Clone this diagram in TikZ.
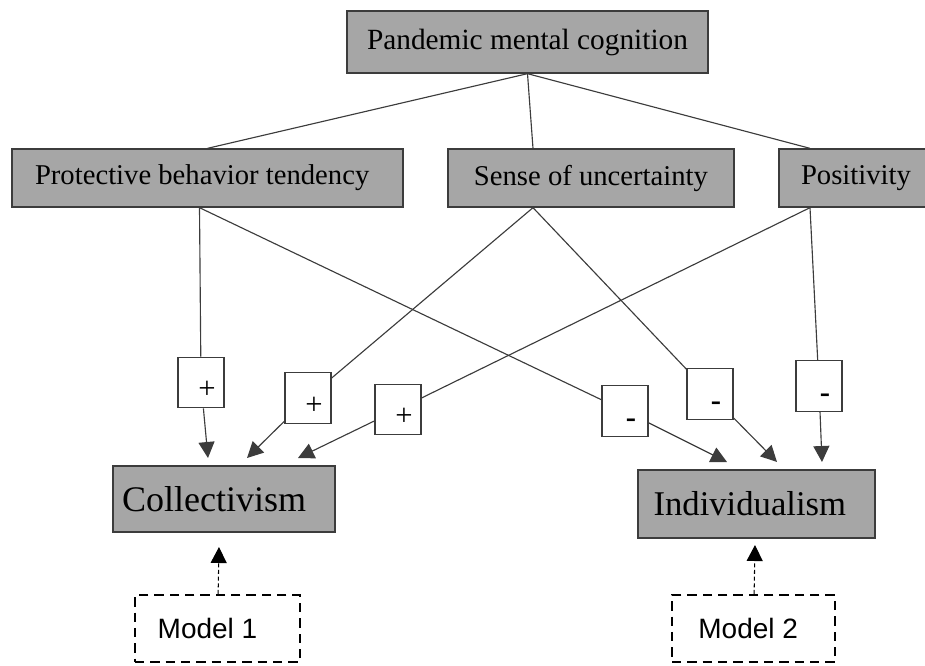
\documentclass[tikz,border=0pt]{standalone}
\usepackage{fontspec}
\setmainfont{Liberation Serif}
\newfontfamily\modelfont{Liberation Sans}
\usetikzlibrary{calc,arrows.meta}
\definecolor{boxgray}{HTML}{A6A6A6}
\definecolor{linegray}{HTML}{3C3C3C}
\def\sgn#1{\raisebox{-12pt}[0pt][0pt]{\hspace{9pt}#1}}

\begin{document}
\begin{tikzpicture}[x=0.75pt, y=-0.75pt,
		greybox/.style={draw=linegray, line width=1pt, fill=boxgray, inner sep=0pt},
		signbox/.style={draw=linegray, line width=0.9pt, fill=white, inner sep=0pt,
			minimum width=34.5pt, minimum height=38pt, font=\fontsize{23}{26}\selectfont},
		modelbox/.style={draw=black, line width=1.8pt, dash pattern=on 7pt off 4.5pt, inner sep=0pt,
			minimum height=50pt, font=\modelfont\fontsize{21}{24}\selectfont},
		link/.style={draw=linegray, line width=0.85pt},
		arrow/.style={link, -{Triangle[length=12pt,width=12pt]}},
		dasharrow/.style={draw=black, line width=0.8pt, dash pattern=on 3pt off 2pt,
			-{Triangle[length=12pt,width=12pt]}}]
			%%%%% START %%%%%
			
			\useasboundingbox (0, 0) rectangle (925, 665);
			
			\node[greybox, minimum width=270.75pt, minimum height=46.5pt, font=\fontsize{22}{24}\selectfont] (top) at (527.5, 42) {Pandemic mental cognition};
			
			\node[greybox, minimum width=293.25pt, minimum height=43.5pt, font=\fontsize{21.5}{24}\selectfont] (prot) at (207.5, 178) {\hspace{-8pt}Protective behavior tendency};
			\node[greybox, minimum width=214.5pt, minimum height=43.5pt, font=\fontsize{21.5}{24}\selectfont] (unc) at (591, 178) {Sense of uncertainty};
			\node[greybox, minimum width=115.5pt, minimum height=43.5pt, font=\fontsize{21.5}{24}\selectfont] (pos) at (856, 178) {Positivity};
			
			\node[greybox, minimum width=166.5pt, minimum height=49.5pt, font=\fontsize{27}{30}\selectfont] (coll) at (224, 499) {\hspace{-15pt}Collectivism};
			\node[greybox, minimum width=177.75pt, minimum height=51pt, font=\fontsize{26}{30}\selectfont] (ind) at (756.5, 504) {\hspace{-10pt}Individualism};
			
			\node[signbox] (p1) at (201, 382.5) {\sgn{+}};
			\node[signbox] (p2) at (308, 398) {\sgn{+}};
			\node[signbox] (p3) at (398, 409.5) {\sgn{+}};
			\node[signbox] (m1) at (625, 411) {\sgn{\textbf{-}}};
			\node[signbox] (m2) at (710, 394) {\sgn{\textbf{-}}};
			\node[signbox] (m3) at (819, 386) {\sgn{\textbf{-}}};
			
			\node[modelbox, minimum width=123.75pt] (mod1) at (217.5, 628.5) {\hspace{-15pt}Model 1};
			\node[modelbox, minimum width=122.25pt] (mod2) at (753.5, 628.5) {\hspace{-8pt}Model 2};
			
			% end points
			\coordinate (protout) at ($(prot.south)+(-8, 0)$);
			\coordinate (uncout) at ($(unc.south)+(-58, 0)$);
			\coordinate (posout) at ($(pos.south)+(-46, 0)$);
			\coordinate (c1) at (208, 458);
			\coordinate (c2) at (247, 458);
			\coordinate (c3) at (298, 458);
			\coordinate (i1) at (727, 462);
			\coordinate (i2) at (777, 462);
			\coordinate (i3) at (822, 462);
			\coordinate (k1) at (219, 547);
			\coordinate (k2) at (755, 545);
			
			\draw[link] (top.south) -- (prot.north);
			\draw[link] (top.south) -- ($(unc.north)+(-58, 0)$);
			\draw[link] (top.south) -- ($(pos.north)+(-46, 0)$);
			
			\draw[link] (protout) -- (p1);
			\draw[link] (protout) -- (m1);
			\draw[link] (uncout) -- (p2);
			\draw[link] (uncout) -- (m2);
			\draw[link] (posout) -- (p3);
			\draw[link] (posout) -- (m3);
			
			\draw[arrow] (p1) -- (c1);
			\draw[arrow] (p2) -- (c2);
			\draw[arrow] (p3) -- (c3);
			\draw[arrow] (m1) -- (i1);
			\draw[arrow] (m2) -- (i2);
			\draw[arrow] (m3) -- (i3);
			
			\draw[dasharrow] (mod1) -- (k1);
			\draw[dasharrow] (mod2) -- (k2);
			
			%%%%% END %%%%%
\end{tikzpicture}
\end{document}
